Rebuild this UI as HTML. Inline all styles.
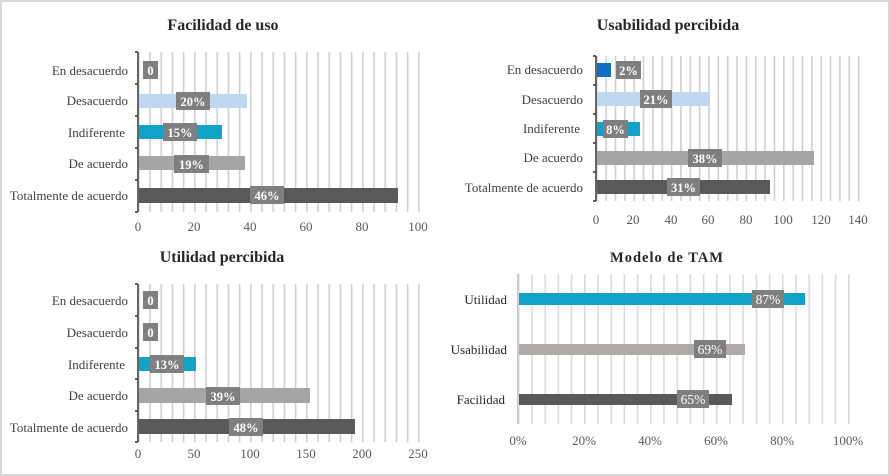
<!DOCTYPE html>
<html><head><meta charset="utf-8"><style>
html,body{margin:0;padding:0;background:#fff}
svg{display:block;font-family:"Liberation Serif",serif}
.t{font-size:16px;font-weight:bold;fill:#262626;text-anchor:middle}
.c{font-size:13px;fill:#404040;text-anchor:end}
.x{font-size:13px;fill:#595959;text-anchor:middle}
.l{font-size:12.5px;font-weight:bold;fill:#fff;text-anchor:middle}
.m{font-size:13.5px;fill:#fff;text-anchor:middle}
</style></head><body>
<svg width="890" height="476" viewBox="0 0 890 476">
<defs>
<pattern id="g1" x="138" y="0" width="11.2" height="476" patternUnits="userSpaceOnUse"><rect x="0" y="0" width="1.6" height="476" fill="#cfcfcf"/></pattern>
<pattern id="g2" x="596" y="0" width="9.35" height="476" patternUnits="userSpaceOnUse"><rect x="0" y="0" width="1.6" height="476" fill="#cfcfcf"/></pattern>
<pattern id="g4" x="518" y="0" width="13.2" height="476" patternUnits="userSpaceOnUse"><rect x="0" y="0" width="1.6" height="476" fill="#dadada"/></pattern>
</defs>
<rect x="1" y="1" width="888" height="474" fill="#fff" stroke="#d9d9d9" stroke-width="2"/>

<!-- Chart 1 -->
<text class="t" x="223" y="30">Facilidad de uso</text>
<rect x="139" y="52" width="281" height="160" fill="url(#g1)"/>
<path d="M138 52V212M135 52H138M135 84H138M135 116H138M135 148H138M135 180H138M135 212H138" stroke="#333" stroke-width="1.5" fill="none"/>
<rect x="139" y="94" width="108" height="14" fill="#bdd7ee"/>
<rect x="139" y="125" width="83" height="14" fill="#12a2c8"/>
<rect x="139" y="156" width="106" height="14" fill="#a5a5a5"/>
<rect x="139" y="188" width="259" height="15" fill="#595959"/>
<g class="c"><text x="128" y="75">En desacuerdo</text><text x="128" y="105">Desacuerdo</text><text x="125" y="137">Indiferente</text><text x="128" y="168">De acuerdo</text><text x="128" y="200">Totalmente de acuerdo</text></g>
<g fill="#7f7f7f"><rect x="143" y="61" width="15" height="18"/><rect x="176" y="92" width="34" height="18"/><rect x="163" y="123" width="34" height="18"/><rect x="174" y="155" width="35" height="18"/><rect x="250" y="186" width="34" height="18"/></g>
<g class="l"><text x="150.5" y="75">0</text><text x="193" y="106">20%</text><text x="180" y="137">15%</text><text x="191.5" y="169">19%</text><text x="267" y="200">46%</text></g>
<g class="x"><text x="138" y="231">0</text><text x="194" y="231">20</text><text x="250" y="231">40</text><text x="306" y="231">60</text><text x="362" y="231">80</text><text x="418" y="231">100</text></g>

<!-- Chart 2 -->
<text class="t" x="668" y="30">Usabilidad percibida</text>
<rect x="597" y="56" width="263" height="145" fill="url(#g2)"/>
<path d="M596 56V201M593 56H596M593 85H596M593 114H596M593 143H596M593 172H596M593 201H596" stroke="#333" stroke-width="1.5" fill="none"/>
<rect x="597" y="63" width="14" height="14" fill="#0f6fc6"/>
<rect x="597" y="92" width="113" height="14" fill="#bdd7ee"/>
<rect x="597" y="122" width="43" height="14" fill="#12a2c8"/>
<rect x="597" y="151" width="217" height="14" fill="#a5a5a5"/>
<rect x="597" y="180" width="173" height="14" fill="#595959"/>
<g class="c"><text x="583" y="74">En desacuerdo</text><text x="583" y="104">Desacuerdo</text><text x="580" y="133">Indiferente</text><text x="583" y="162">De acuerdo</text><text x="583" y="192">Totalmente de acuerdo</text></g>
<g fill="#7f7f7f"><rect x="616" y="61" width="25" height="18"/><rect x="640" y="90" width="32" height="18"/><rect x="603" y="120" width="25" height="18"/><rect x="688" y="149" width="34" height="18"/><rect x="667" y="178" width="33" height="18"/></g>
<g class="l"><text x="628.5" y="75">2%</text><text x="656" y="104">21%</text><text x="615.5" y="134">8%</text><text x="705" y="163">38%</text><text x="683.5" y="192">31%</text></g>
<g class="x"><text x="596" y="224">0</text><text x="633" y="224">20</text><text x="671" y="224">40</text><text x="708" y="224">60</text><text x="746" y="224">80</text><text x="783" y="224">100</text><text x="821" y="224">120</text><text x="858" y="224">140</text></g>

<!-- Chart 3 -->
<text class="t" x="222" y="262">Utilidad percibida</text>
<rect x="139" y="284" width="281" height="158" fill="url(#g1)"/>
<path d="M138 284V442M135 284H138M135 316H138M135 348H138M135 379H138M135 411H138M135 442H138" stroke="#333" stroke-width="1.5" fill="none"/>
<rect x="139" y="357" width="57" height="14" fill="#12a2c8"/>
<rect x="139" y="388" width="171" height="15" fill="#a5a5a5"/>
<rect x="139" y="419" width="216" height="15" fill="#595959"/>
<g class="c"><text x="128" y="305">En desacuerdo</text><text x="128" y="337">Desacuerdo</text><text x="125" y="369">Indiferente</text><text x="128" y="400">De acuerdo</text><text x="128" y="432">Totalmente de acuerdo</text></g>
<g fill="#7f7f7f"><rect x="143" y="291" width="15" height="18"/><rect x="143" y="323" width="15" height="18"/><rect x="150" y="355" width="34" height="18"/><rect x="206" y="387" width="34" height="18"/><rect x="229" y="418" width="34" height="18"/></g>
<g class="l"><text x="150.5" y="305">0</text><text x="150.5" y="337">0</text><text x="167" y="369">13%</text><text x="223" y="401">39%</text><text x="246" y="432">48%</text></g>
<g class="x"><text x="138" y="458">0</text><text x="194" y="458">50</text><text x="250" y="458">100</text><text x="306" y="458">150</text><text x="362" y="458">200</text><text x="418" y="458">250</text></g>

<!-- Chart 4 -->
<text class="t" x="667" y="262" style="font-size:14.5px;letter-spacing:1px">Modelo de TAM</text>
<rect x="518" y="274" width="333" height="150" fill="url(#g4)"/>
<rect x="517" y="274" width="1.5" height="150" fill="#c8c8c8"/>
<rect x="519" y="293" width="286" height="12" fill="#12a2c8"/>
<rect x="519" y="344" width="226" height="11" fill="#aeaaaa"/>
<rect x="519" y="394" width="213" height="11" fill="#595959"/>
<g class="c" style="fill:#262626"><text x="507" y="304">Utilidad</text><text x="507" y="354">Usabilidad</text><text x="505" y="404">Facilidad</text></g>
<g fill="#7f7f7f"><rect x="752" y="290" width="32" height="18"/><rect x="694" y="340" width="32" height="18"/><rect x="677" y="390" width="32" height="18"/></g>
<g class="m"><text x="768" y="304">87%</text><text x="710" y="354">69%</text><text x="693" y="404">65%</text></g>
<g class="x"><text x="518" y="445">0%</text><text x="584" y="445">20%</text><text x="650" y="445">40%</text><text x="716" y="445">60%</text><text x="782" y="445">80%</text><text x="848" y="445">100%</text></g>
</svg>
</body></html>
